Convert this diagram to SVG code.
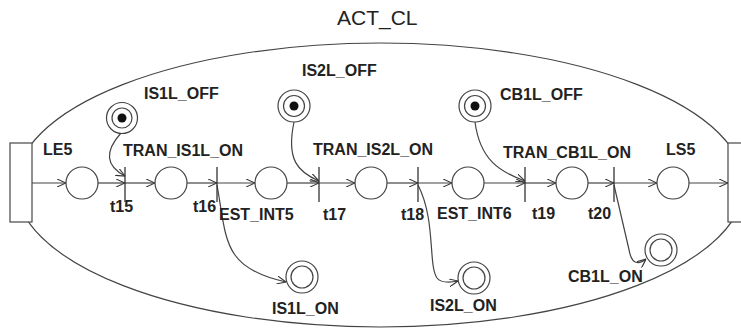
<svg xmlns="http://www.w3.org/2000/svg" width="741" height="331" viewBox="0 0 741 331">
<defs>
<marker id="arr" viewBox="0 0 9 8" refX="9" refY="4" markerWidth="9" markerHeight="8" markerUnits="userSpaceOnUse" orient="auto">
<path d="M0,0 L9,4 L0,8" fill="none" stroke="#333" stroke-width="1.1"/>
</marker>
</defs>
<style>
.t{font-family:"Liberation Sans",Arial,sans-serif;font-weight:bold;font-size:16px;fill:#222}
.ti{font-family:"Liberation Sans",Arial,sans-serif;font-size:21px;fill:#222}
.pl{fill:#fff;stroke:#444;stroke-width:1.2}
.tr{stroke:#333;stroke-width:1.3}
.c{fill:none;stroke:#444;stroke-width:1.2}
.a{fill:none;stroke:#444;stroke-width:1.2;marker-end:url(#arr)}
.bx{fill:#fff;stroke:#555;stroke-width:1.3}
</style>
<rect width="741" height="331" fill="#fff"/>
<text class="ti" x="337" y="25">ACT_CL</text>
<ellipse cx="380" cy="185" rx="364" ry="142" class="c"/>
<g id="LE5_box"><rect class="bx" x="10" y="143" width="22" height="79"/></g>
<g id="LS5_box"><rect class="bx" x="728" y="143" width="20" height="79"/></g>
<g id="connectors">
<line class="a" x1="32" y1="183" x2="66" y2="183"/>
<line class="a" x1="98" y1="183" x2="125" y2="183"/>
<line class="a" x1="125" y1="183" x2="155" y2="183"/>
<line class="a" x1="187" y1="183" x2="217" y2="183"/>
<line class="a" x1="217" y1="183" x2="255" y2="183"/>
<line class="a" x1="287" y1="183" x2="319" y2="183"/>
<line class="a" x1="319" y1="183" x2="355" y2="183"/>
<line class="a" x1="387" y1="183" x2="418" y2="183"/>
<line class="a" x1="418" y1="183" x2="452" y2="183"/>
<line class="a" x1="484" y1="183" x2="525" y2="183"/>
<line class="a" x1="525" y1="183" x2="556" y2="183"/>
<line class="a" x1="588" y1="183" x2="614" y2="183"/>
<line class="a" x1="614" y1="183" x2="657" y2="183"/>
<line class="a" x1="689" y1="183" x2="728" y2="183"/>
<path class="a" d="M121,133 C104,152 106,166 125,176"/>
<path class="a" d="M294,122 C286,160 298,172 319,181"/>
<path class="a" d="M475,122 C480,160 500,172 525,181"/>
<path class="a" d="M217,185 C227,240 222,268 286,282"/>
<path class="a" d="M418,185 C436,220 428,265 437,278 C441,283 448,283 458,281"/>
<path class="a" d="M614,185 L630,254 C633,265 640,264 646,259"/>
</g>
<g id="t15"><line class="tr" x1="125" y1="167" x2="125" y2="202"/><text class="t" x="110" y="212">t15</text></g>
<g id="t16"><line class="tr" x1="217" y1="167" x2="217" y2="202"/><text class="t" x="193" y="212">t16</text></g>
<g id="t17"><line class="tr" x1="319" y1="167" x2="319" y2="202"/><text class="t" x="323" y="220">t17</text></g>
<g id="t18"><line class="tr" x1="418" y1="167" x2="418" y2="202"/><text class="t" x="401" y="220">t18</text></g>
<g id="t19"><line class="tr" x1="525" y1="167" x2="525" y2="202"/><text class="t" x="532" y="219">t19</text></g>
<g id="t20"><line class="tr" x1="614" y1="167" x2="614" y2="202"/><text class="t" x="588" y="219">t20</text></g>
<g id="LE5"><circle class="pl" cx="82" cy="183" r="16"/><text class="t" x="43" y="155">LE5</text></g>
<g id="TRAN_IS1L_ON"><circle class="pl" cx="171" cy="183" r="16"/><text class="t" x="123" y="156">TRAN_IS1L_ON</text></g>
<g id="EST_INT5"><circle class="pl" cx="271" cy="183" r="16"/><text class="t" x="219" y="220">EST_INT5</text></g>
<g id="TRAN_IS2L_ON"><circle class="pl" cx="371" cy="183" r="16"/><text class="t" x="313" y="155">TRAN_IS2L_ON</text></g>
<g id="EST_INT6"><circle class="pl" cx="468" cy="183" r="16"/><text class="t" x="437" y="219">EST_INT6</text></g>
<g id="TRAN_CB1L_ON"><circle class="pl" cx="572" cy="183" r="16"/><text class="t" x="503" y="158">TRAN_CB1L_ON</text></g>
<g id="LS5"><circle class="pl" cx="673" cy="183" r="16"/><text class="t" x="666" y="155">LS5</text></g>
<g id="IS1L_OFF"><circle class="pl" cx="122" cy="118" r="15.5"/><circle class="pl" cx="122" cy="118" r="10"/><circle cx="122" cy="118" r="4.5" fill="#111"/><text class="t" x="144" y="99">IS1L_OFF</text></g>
<g id="IS2L_OFF"><circle class="pl" cx="294" cy="106" r="16"/><circle class="pl" cx="294" cy="106" r="10.5"/><circle cx="294" cy="106" r="4.5" fill="#111"/><text class="t" x="302" y="76">IS2L_OFF</text></g>
<g id="CB1L_OFF"><circle class="pl" cx="475" cy="106" r="16"/><circle class="pl" cx="475" cy="106" r="10.5"/><circle cx="475" cy="106" r="4.5" fill="#111"/><text class="t" x="500" y="100">CB1L_OFF</text></g>
<g id="IS1L_ON"><circle class="pl" cx="302" cy="277" r="16"/><circle class="pl" cx="302" cy="277" r="11"/><text class="t" x="272" y="314">IS1L_ON</text></g>
<g id="IS2L_ON"><circle class="pl" cx="474" cy="278" r="16"/><circle class="pl" cx="474" cy="278" r="11"/><text class="t" x="430" y="311">IS2L_ON</text></g>
<g id="CB1L_ON"><circle class="pl" cx="661" cy="250" r="16"/><circle class="pl" cx="661" cy="250" r="11"/><text class="t" x="568" y="282">CB1L_ON</text></g>
</svg>
